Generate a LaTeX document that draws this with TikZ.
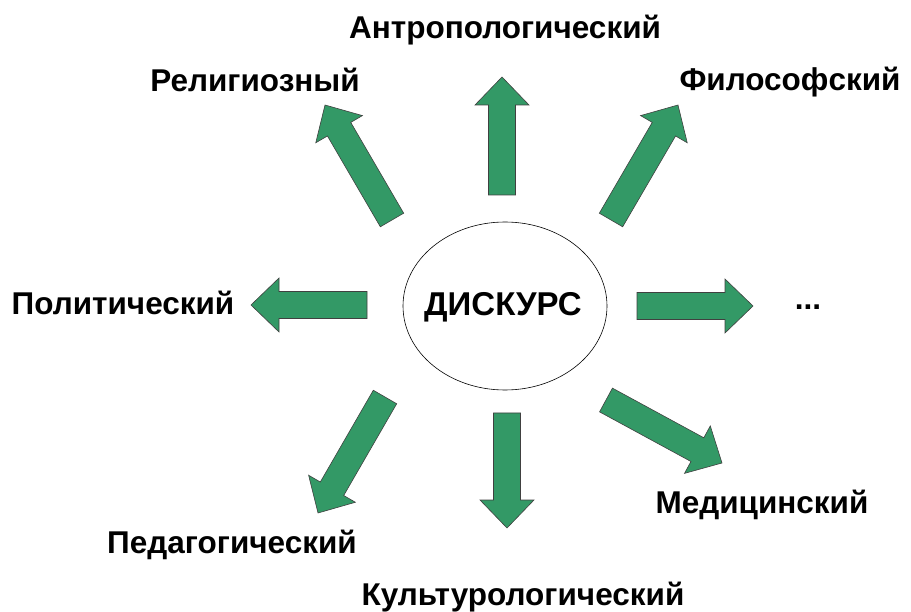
\documentclass[tikz,border=0pt]{standalone}
\usepackage{fontspec}
\setmainfont{Liberation Sans}
\usetikzlibrary{calc}
\definecolor{arrowgreen}{HTML}{339966}
\tikzset{
  label/.style={font=\fontsize{31.5}{36}\selectfont\bfseries, inner sep=0pt},
  blockarrow/.style={fill=arrowgreen, draw=black!75, line width=0.6pt}
}
% block arrow from tail #1 to tip #2
\newcommand{\blockarrow}[2]{
  \coordinate (#2h) at ($(#2)!28pt!(#1)$);
  \draw[blockarrow] ($(#1)!13.5pt!90:(#2)$) -- ($(#2h)!13.5pt!90:(#2)$)
    -- ($(#2h)!27pt!90:(#2)$) -- (#2) -- ($(#2h)!27pt!-90:(#2)$)
    -- ($(#2h)!13.5pt!-90:(#2)$) -- ($(#1)!13.5pt!-90:(#2)$) -- cycle;
}
\begin{document}
\begin{tikzpicture}[x=1pt, y=-1pt]
  \useasboundingbox (0,0) rectangle (911,612);

  % centre
  \draw[line width=0.6pt] (505,306) ellipse (102 and 84);
  \node[font=\fontsize{33}{38}\selectfont\bfseries] (disk) at (503,307) {ДИСКУРС};

  % labels
  \node[label] (antr) at (505,30) {Антропологический};
  \node[label] (relig) at (255,80) {Религиозный};
  \node[label] (filos) at (790,82) {Философский};
  \node[label] (polit) at (123,303) {Политический};
  \node[label] (dots) at (808,307) {...};
  \node[label] (medic) at (762,505) {Медицинский};
  \node[label] (pedag) at (232,545) {Педагогический};
  \node[label] (kult) at (523,597) {Культурологический};

  % arrow ends
  \coordinate (uTail) at (502,195);  \coordinate (uTip) at (502,77);
  \coordinate (ulTail) at (392,220); \coordinate (ulTip) at (325,105);
  \coordinate (urTail) at (611,220); \coordinate (urTip) at (678,105);
  \coordinate (lTail) at (367,305);  \coordinate (lTip) at (251,305);
  \coordinate (rTail) at (637,306);  \coordinate (rTip) at (753,306);
  \coordinate (dlTail) at (385,397); \coordinate (dlTip) at (318,513);
  \coordinate (dTail) at (507,413);  \coordinate (dTip) at (507,528);
  \coordinate (drTail) at (606,400); \coordinate (drTip) at (722,463);

  \blockarrow{uTail}{uTip}
  \blockarrow{ulTail}{ulTip}
  \blockarrow{urTail}{urTip}
  \blockarrow{lTail}{lTip}
  \blockarrow{rTail}{rTip}
  \blockarrow{dlTail}{dlTip}
  \blockarrow{dTail}{dTip}
  \blockarrow{drTail}{drTip}
\end{tikzpicture}
\end{document}
